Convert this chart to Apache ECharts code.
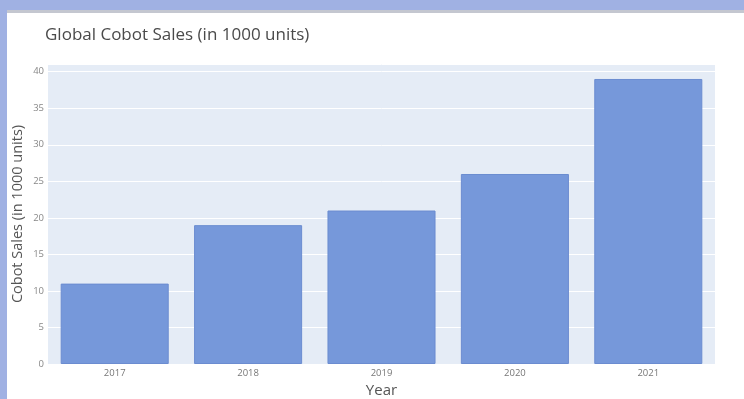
<!DOCTYPE html>
<html><head><meta charset="utf-8">
<script src="https://cdn.jsdelivr.net/npm/echarts@6/dist/echarts.min.js"></script>
<style>html,body{margin:0;padding:0;background:#fff}#c{width:744px;height:399px}</style>
</head><body><div id="c"></div>
<script>
const years = ['2017','2018','2019','2020','2021'];
const sales = [11, 19, 21, 26, 39];
const yTicks = [0,5,10,15,20,25,30,35,40];

const chart = echarts.init(document.getElementById('c'), null, {renderer:'canvas'});
const F = '"Open Sans", "Noto Sans", sans-serif';
chart.setOption({
  backgroundColor: '#ffffff',
  animation: false,
  graphic: [
    {type:'rect', shape:{x:0,y:0,width:744,height:10}, style:{fill:'#a0b1e3'}, z:10},
    {type:'rect', shape:{x:0,y:10,width:744,height:3}, style:{fill:'#c4c7d0'}, z:10},
    {type:'rect', shape:{x:0,y:10,width:7,height:389}, style:{fill:'#a0b1e3'}, z:11}
  ],
  title: {
    text: 'Global Cobot Sales (in 1000 units)',
    left: 40, top: 22,
    textStyle: {fontFamily: F, fontSize: 17, fontWeight: 'normal', color: '#4a4a4a'}
  },
  grid: {left: 48, right: 29, top: 64, bottom: 35, show: true, backgroundColor: '#e5ecf6', borderWidth: 0,
         containLabel: false, outerBoundsMode: 'none'},
  xAxis: {
    type: 'category', data: years,
    name: 'Year', nameLocation: 'middle', nameGap: 18,
    nameTextStyle: {fontFamily: F, fontSize: 15, color: '#555'},
    axisLine: {show: false}, axisTick: {show: false},
    axisLabel: {fontFamily: F, fontSize: 9.5, color: '#777', margin: 4}
  },
  yAxis: {
    type: 'value', min: 0, max: 41.05, interval: 5,
    name: 'Cobot Sales (in 1000 units)', nameLocation: 'middle', nameGap: 23, nameMoveOverlap: false,
    nameTextStyle: {fontFamily: F, fontSize: 14.5, color: '#555'},
    axisLine: {show: false}, axisTick: {show: false},
    splitLine: {lineStyle: {color: '#ffffff', width: 1}},
    axisLabel: {fontFamily: F, fontSize: 9.5, color: '#888', margin: 4,
      formatter: v => yTicks.includes(v) ? String(v) : ''}
  },
  series: [{
    type: 'bar', data: sales, barCategoryGap: '19%',
    itemStyle: {color: '#7698da', borderColor: '#6b8cd0', borderWidth: 1, borderRadius: 0}
  }]
});
</script></body></html>
